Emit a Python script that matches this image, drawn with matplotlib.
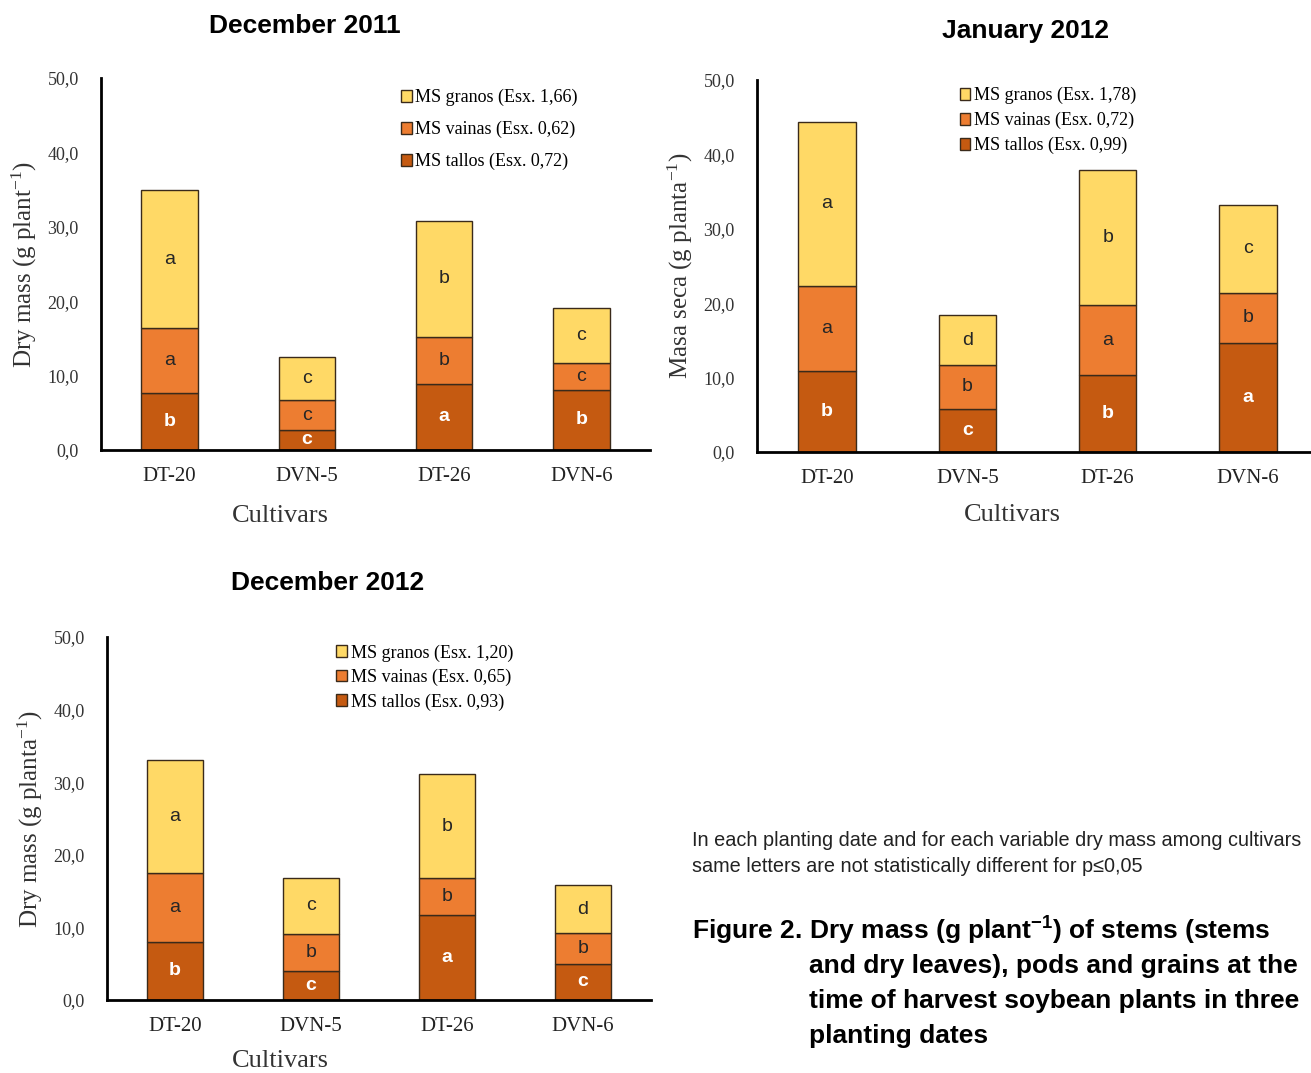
import matplotlib
matplotlib.use('Agg')
import matplotlib.pyplot as plt
from matplotlib.patches import Patch

plt.rcParams['mathtext.default'] = 'regular'

cultivars = ['DT-20', 'DVN-5', 'DT-26', 'DVN-6']

# segment values (g plant-1)
tallos_dec11 = [7.7, 2.7, 8.9, 8.1]
vainas_dec11 = [8.7, 4.0, 6.3, 3.6]
granos_dec11 = [18.5, 5.8, 15.6, 7.4]
let_tallos_dec11 = ['b', 'c', 'a', 'b']
let_vainas_dec11 = ['a', 'c', 'b', 'c']
let_granos_dec11 = ['a', 'c', 'b', 'c']

tallos_jan12 = [10.9, 5.8, 10.3, 14.7]
vainas_jan12 = [11.4, 5.9, 9.5, 6.7]
granos_jan12 = [22.1, 6.7, 18.1, 11.8]
let_tallos_jan12 = ['b', 'c', 'b', 'a']
let_vainas_jan12 = ['a', 'b', 'a', 'b']
let_granos_jan12 = ['a', 'd', 'b', 'c']

tallos_dec12 = [8.0, 4.0, 11.7, 5.0]
vainas_dec12 = [9.5, 5.1, 5.1, 4.2]
granos_dec12 = [15.6, 7.7, 14.3, 6.6]
let_tallos_dec12 = ['b', 'c', 'a', 'c']
let_vainas_dec12 = ['a', 'b', 'b', 'b']
let_granos_dec12 = ['a', 'c', 'b', 'd']

legend_dec11 = ['MS granos (Esx. 1,66)', 'MS vainas (Esx. 0,62)', 'MS tallos (Esx. 0,72)']
legend_jan12 = ['MS granos (Esx. 1,78)', 'MS vainas (Esx. 0,72)', 'MS tallos (Esx. 0,99)']
legend_dec12 = ['MS granos (Esx. 1,20)', 'MS vainas (Esx. 0,65)', 'MS tallos (Esx. 0,93)']

C_GRANOS = '#FFD966'
C_VAINAS = '#ED7D31'
C_TALLOS = '#C55A11'
EDGE = '#3a2a1a'
SERIF = 'Liberation Serif'
SANS = 'Liberation Sans'

W, H = 1311, 1073
fig = plt.figure(figsize=(W / 100, H / 100), dpi=100)


def px_axes(left, top, right, bottom):
    return fig.add_axes([left / W, 1 - bottom / H, (right - left) / W, (bottom - top) / H])


def panel(ax, tallos, vainas, granos, lt, lv, lg, labels, ylabel, leg_xy, leg_space, xlab_xy):
    x = list(range(len(cultivars)))
    width = 0.41
    ax.bar(x, tallos, width, color=C_TALLOS, edgecolor=EDGE, linewidth=1.0, zorder=2)
    base2 = tallos
    ax.bar(x, vainas, width, bottom=base2, color=C_VAINAS, edgecolor=EDGE, linewidth=1.0, zorder=2)
    base3 = [a + b for a, b in zip(tallos, vainas)]
    ax.bar(x, granos, width, bottom=base3, color=C_GRANOS, edgecolor=EDGE, linewidth=1.0, zorder=2)

    for i in x:
        ax.text(i, tallos[i] / 2, lt[i], ha='center', va='center', color='white',
                fontsize=14, fontweight='bold', family=SANS, zorder=3)
        ax.text(i, base2[i] + vainas[i] / 2, lv[i], ha='center', va='center',
                color='#262626', fontsize=14, family=SANS, zorder=3)
        ax.text(i, base3[i] + granos[i] / 2, lg[i], ha='center', va='center',
                color='#262626', fontsize=14, family=SANS, zorder=3)

    ax.set_xlim(-0.5, 3.5)
    ax.set_ylim(0, 50)
    ax.set_yticks([0, 10, 20, 30, 40, 50])
    ax.set_yticklabels(['0,0', '10,0', '20,0', '30,0', '40,0', '50,0'],
                       family=SERIF, fontsize=13, color='#333333')
    ax.set_xticks(x)
    ax.set_xticklabels(cultivars, family=SERIF, fontsize=15, color='#222222')
    ax.tick_params(axis='both', length=0)
    ax.tick_params(axis='y', pad=16)
    ax.tick_params(axis='x', pad=12)
    for s in ['top', 'right']:
        ax.spines[s].set_visible(False)
    for s in ['left', 'bottom']:
        ax.spines[s].set_linewidth(2)
        ax.spines[s].set_color('black')
    ax.set_xlabel('Cultivars', family=SERIF, fontsize=19, color='#333333')
    ax.xaxis.set_label_coords(*xlab_xy)
    ax.set_ylabel(ylabel, family=SERIF, fontsize=18, color='#333333', labelpad=6)

    handles = [Patch(facecolor=C_GRANOS, edgecolor=EDGE),
               Patch(facecolor=C_VAINAS, edgecolor=EDGE),
               Patch(facecolor=C_TALLOS, edgecolor=EDGE)]
    ax.legend(handles, labels, loc='upper left', bbox_to_anchor=leg_xy, frameon=False,
              prop={'family': SERIF, 'size': 13}, handlelength=0.6, handleheight=0.6,
              handletextpad=0.2, borderpad=0, labelspacing=leg_space)


ax1 = px_axes(101, 78, 650, 450)
panel(ax1, tallos_dec11, vainas_dec11, granos_dec11,
      let_tallos_dec11, let_vainas_dec11, let_granos_dec11,
      legend_dec11, 'Dry mass (g plant$^{-1}$)', (0.53, 0.995), 0.82, (0.326, -0.148))

ax2 = px_axes(757, 80, 1318, 452)
panel(ax2, tallos_jan12, vainas_jan12, granos_jan12,
      let_tallos_jan12, let_vainas_jan12, let_granos_jan12,
      legend_jan12, 'Masa seca (g planta$^{-1}$)', (0.345, 1.005), 0.42, (0.456, -0.14))

ax3 = px_axes(107, 637, 651, 1000)
panel(ax3, tallos_dec12, vainas_dec12, granos_dec12,
      let_tallos_dec12, let_vainas_dec12, let_granos_dec12,
      legend_dec12, 'Dry mass (g planta$^{-1}$)', (0.405, 1.005), 0.4, (0.318, -0.138))

fig.text(305 / W, 1 - 26 / H, 'December 2011', ha='center', va='center',
         family=SANS, fontsize=19, fontweight='bold')
fig.text(1025 / W, 1 - 31 / H, 'January 2012', ha='center', va='center',
         family=SANS, fontsize=19, fontweight='bold')
fig.text(328 / W, 1 - 583 / H, 'December 2012', ha='center', va='center',
         family=SANS, fontsize=19, fontweight='bold')

fig.text(692 / W, 1 - 841 / H,
         'In each planting date and for each variable dry mass among cultivars',
         ha='left', va='center', family=SANS, fontsize=14.3, color='#222222')
fig.text(692 / W, 1 - 866 / H,
         'same letters are not statistically different for p\u22640,05',
         ha='left', va='center', family=SANS, fontsize=14.3, color='#222222')

fig.text(692 / W, 1 - 931 / H, 'Figure 2. Dry mass (g plant$^{-1}$) of stems (stems',
         ha='left', va='center', family=SANS, fontsize=19, fontweight='bold')
caption_rest = ['and dry leaves), pods and grains at the',
                'time of harvest soybean plants in three',
                'planting dates']
for k, line in enumerate(caption_rest):
    fig.text(809 / W, 1 - (966 + 35 * k) / H, line, ha='left', va='center',
             family=SANS, fontsize=19, fontweight='bold')

fig.savefig('out.png', dpi=100, facecolor='white')
